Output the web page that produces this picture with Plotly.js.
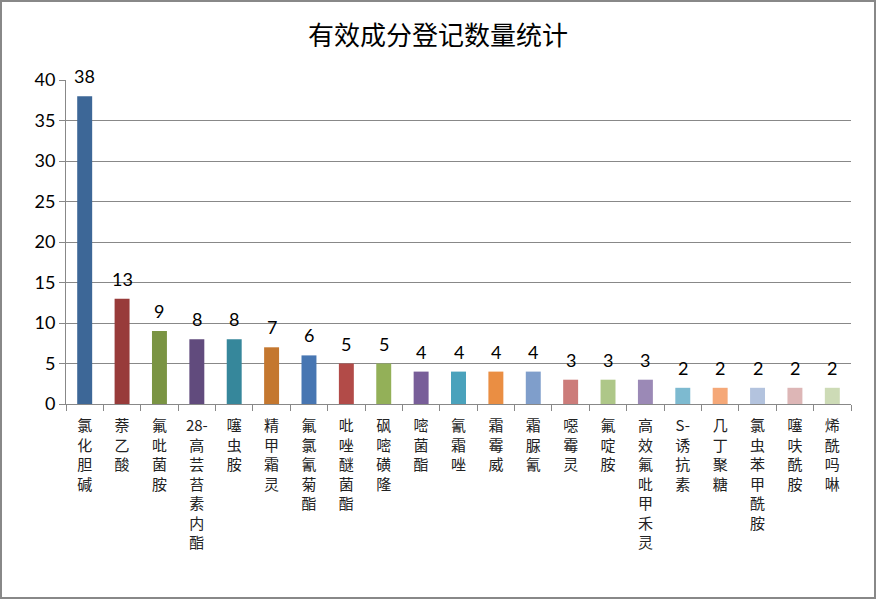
<!DOCTYPE html>
<html>
<head>
<meta charset="utf-8">
<script src="https://cdn.plot.ly/plotly-3.0.1.min.js"></script>
<style>
  body { margin: 0; background: #fff; }
  #chart { width: 876px; height: 599px; }
  #frame { position: absolute; left: 0; top: 0; width: 872px; height: 595px; border: 2px solid #888; pointer-events: none; }
</style>
</head>
<body>
<div id="chart"></div>
<div id="frame"></div>
<script>
var names = ['氯化胆碱', '萘乙酸', '氟吡菌胺', '28-高芸苔素内酯', '噻虫胺', '精甲霜灵', '氟氯氰菊酯',
  '吡唑醚菌酯', '砜嘧磺隆', '嘧菌酯', '氰霜唑', '霜霉威', '霜脲氰', '噁霉灵', '氟啶胺',
  '高效氟吡甲禾灵', 'S-诱抗素', '几丁聚糖', '氯虫苯甲酰胺', '噻呋酰胺', '烯酰吗啉'];
var counts = [38, 13, 9, 8, 8, 7, 6, 5, 5, 4, 4, 4, 4, 3, 3, 3, 2, 2, 2, 2, 2];
var barColors = ['#3D6797', '#983B3A', '#7A9443', '#614B7D', '#36879B', '#C4772F', '#4776B2',
  '#B24B48', '#93B058', '#785E99', '#4AA2BC', '#EA8E43', '#7F9ECB', '#CC7C7A', '#AEC788',
  '#9B89B6', '#7DBAD0', '#F5A878', '#B3C3DE', '#DDB6B6', '#CDDBB6'];

// stack characters vertically like the original label layout
function vertical(s) {
  var m = s.match(/^([0-9A-Za-z]+-)(.*)$/);
  var head = [];
  if (m) { head = [m[1]]; s = m[2]; }
  return head.concat(s.split('')).join('<br>');
}
var tickText = names.map(vertical);

var trace = {
  type: 'bar',
  x: names,
  y: counts,
  marker: { color: barColors },
  hoverinfo: 'x+y'
};

// value labels sit a bit higher above the bars than plotly's own outside text
var valueLabels = names.map(function (n, i) {
  return {
    x: n, y: counts[i], xref: 'x', yref: 'y',
    text: String(counts[i]),
    showarrow: false,
    yanchor: 'middle',
    yshift: 20,
    font: { family: 'Lato, "Open Sans", sans-serif', size: 18, color: '#000' }
  };
});

var layout = {
  width: 876,
  height: 599,
  margin: { l: 66, r: 25, t: 80, b: 195 },
  paper_bgcolor: '#fff',
  plot_bgcolor: '#fff',
  title: {
    text: '有效成分登记数量统计',
    font: { family: '"Noto Sans CJK SC", sans-serif', size: 26, color: '#000' },
    x: 0.5, xanchor: 'center', y: 0.94, yanchor: 'middle'
  },
  bargap: 0.6,
  showlegend: false,
  annotations: valueLabels,
  xaxis: {
    type: 'category',
    tickmode: 'array',
    tickvals: names,
    ticktext: tickText,
    tickangle: 0,
    ticks: 'outside',
    tickson: 'boundaries',
    ticklen: 6,
    tickcolor: '#888',
    showline: true,
    linecolor: '#888',
    linewidth: 1,
    ticklabelstandoff: 8,
    tickfont: { family: '"Noto Sans CJK SC", sans-serif', size: 15, color: '#222' }
  },
  yaxis: {
    range: [0, 40],
    dtick: 5,
    ticks: 'outside',
    ticklen: 6,
    tickcolor: '#888',
    showline: true,
    linecolor: '#888',
    gridcolor: '#888',
    gridwidth: 1,
    zeroline: false,
    tickfont: { family: 'Lato, "Open Sans", sans-serif', size: 18, color: '#000' }
  }
};

Plotly.newPlot('chart', [trace], layout, { displayModeBar: false, staticPlot: true });
</script>
</body>
</html>
